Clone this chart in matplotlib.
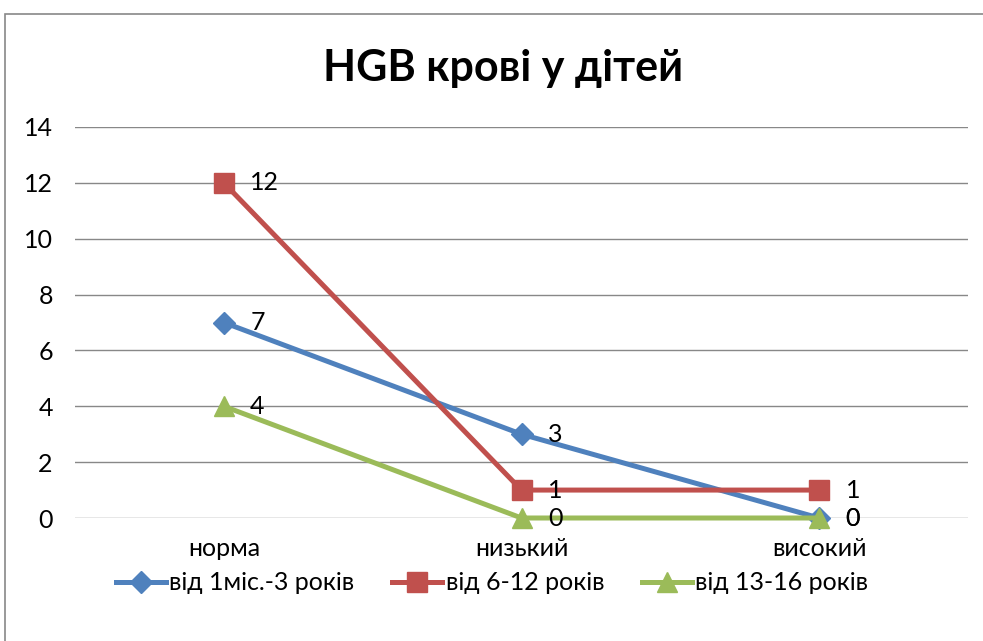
import matplotlib
matplotlib.use("Agg")
import matplotlib.pyplot as plt
from matplotlib.patches import Rectangle

plt.rcParams['font.family'] = ['Lato', 'DejaVu Sans']

categories = ['норма', 'низький', 'високий']
series_names = ['від 1міс.-3 років', 'від 6-12 років', 'від 13-16 років']
values_1 = [7, 3, 0]
values_2 = [12, 1, 1]
values_3 = [4, 0, 0]
yticks = [0, 2, 4, 6, 8, 10, 12, 14]

colors = ['#4F81BD', '#C0504D', '#9BBB59']
markers = ['D', 's', '^']
msizes = [11, 14, 14]

fig = plt.figure(figsize=(9.83, 6.41), dpi=100)
# рамка діаграми (обрізана справа і знизу, як на картинці)
fig.patches.append(Rectangle((5 / 983, -0.1), 1.2, 1 - 14 / 641 + 0.1,
                             transform=fig.transFigure, fill=False,
                             edgecolor='#888888', linewidth=1.2))

ax = fig.add_axes([75 / 983, 1 - 518 / 641, 893 / 983, 391 / 641])
x = range(len(categories))
for vals, name, c, m, ms in zip([values_1, values_2, values_3], series_names,
                                colors, markers, msizes):
    ax.plot(x, vals, color=c, linewidth=3.6, marker=m, markersize=ms,
            label=name, zorder=3, clip_on=False)
    for xi, v in zip(x, vals):
        ax.annotate(str(v), (xi, v), xytext=(19, 0), textcoords='offset points',
                    va='center', ha='left', fontsize=18, color='black', zorder=4)

ax.set_xlim(-0.5, 2.5)
ax.set_ylim(0, 14)
ax.set_yticks(yticks)
ax.set_xticks(list(x))
ax.set_xticklabels(categories)
ax.yaxis.grid(True, color='#888888', linewidth=1)
ax.set_axisbelow(True)
for s in ax.spines.values():
    s.set_visible(False)
ax.tick_params(axis='both', length=0, labelsize=18)
ax.tick_params(axis='y', pad=16)
ax.tick_params(axis='x', pad=14)

fig.text(503 / 983, 1 - 68 / 641, 'HGB крові у дітей', ha='center', va='center',
         fontsize=31, fontweight='bold')

fig.legend(loc='center', bbox_to_anchor=(492 / 983, 1 - 583 / 641), ncol=3,
           frameon=False, fontsize=18, handlelength=2.0, handletextpad=0.15,
           columnspacing=1.5)

fig.savefig('out.png', dpi=100)
